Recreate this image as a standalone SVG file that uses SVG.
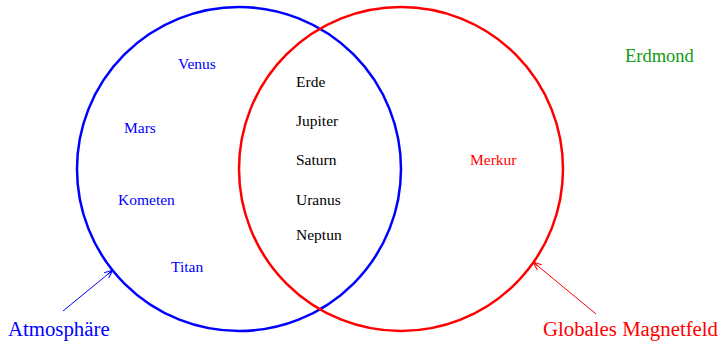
<svg xmlns="http://www.w3.org/2000/svg" width="724" height="344" viewBox="0 0 724 344">
<style>
text{font-family:"Liberation Serif","Times New Roman",serif}
.in{font-size:15.5px}
.b{fill:#0000ff}
.r{fill:#ff0000}
.k{fill:#000000}
.circ{fill:none;stroke-width:2.5}
.big{font-size:20.8px}
</style>
<defs>
<marker id="ab" viewBox="0 0 10 10" refX="9.5" refY="5" markerWidth="10" markerHeight="10" markerUnits="userSpaceOnUse" orient="auto">
<path d="M1,1.5 L9.5,5 L1,8.5 M3,5 L9.5,5" fill="none" stroke="#0000ff" stroke-width="1"/>
</marker>
<marker id="ar" viewBox="0 0 10 10" refX="9.5" refY="5" markerWidth="10" markerHeight="10" markerUnits="userSpaceOnUse" orient="auto">
<path d="M1,1.5 L9.5,5 L1,8.5 M3,5 L9.5,5" fill="none" stroke="#ff0000" stroke-width="1"/>
</marker>
</defs>
<g id="atmosphaere">
<circle class="circ" cx="239" cy="169" r="162" stroke="#0000ff"/>
<text class="big b" x="8" y="336">Atmosphäre</text>
</g>
<g id="magnetfeld">
<circle class="circ" cx="401" cy="169" r="162" stroke="#ff0000"/>
<text class="big r" x="543" y="336">Globales Magnetfeld</text>
</g>
<g id="venus"><text class="in b" x="178" y="69">Venus</text></g>
<g id="mars"><text class="in b" x="124" y="133">Mars</text></g>
<g id="kometen"><text class="in b" x="118" y="205">Kometen</text></g>
<g id="titan"><text class="in b" x="171" y="272">Titan</text></g>
<g id="erde"><text class="in k" x="296" y="87">Erde</text></g>
<g id="jupiter"><text class="in k" x="296" y="126">Jupiter</text></g>
<g id="saturn"><text class="in k" x="296" y="165">Saturn</text></g>
<g id="uranus"><text class="in k" x="296" y="205">Uranus</text></g>
<g id="neptun"><text class="in k" x="296" y="240">Neptun</text></g>
<g id="merkur"><text class="in r" x="470" y="165">Merkur</text></g>
<g id="erdmond"><text x="625" y="62" font-size="18.5" fill="#119911">Erdmond</text></g>
<g id="connectors">
<line x1="63" y1="311" x2="113" y2="270" stroke="#0000ff" stroke-width="1" marker-end="url(#ab)"/>
<line x1="596" y1="314" x2="533" y2="262" stroke="#ff0000" stroke-width="1" marker-end="url(#ar)"/>
</g>
</svg>
